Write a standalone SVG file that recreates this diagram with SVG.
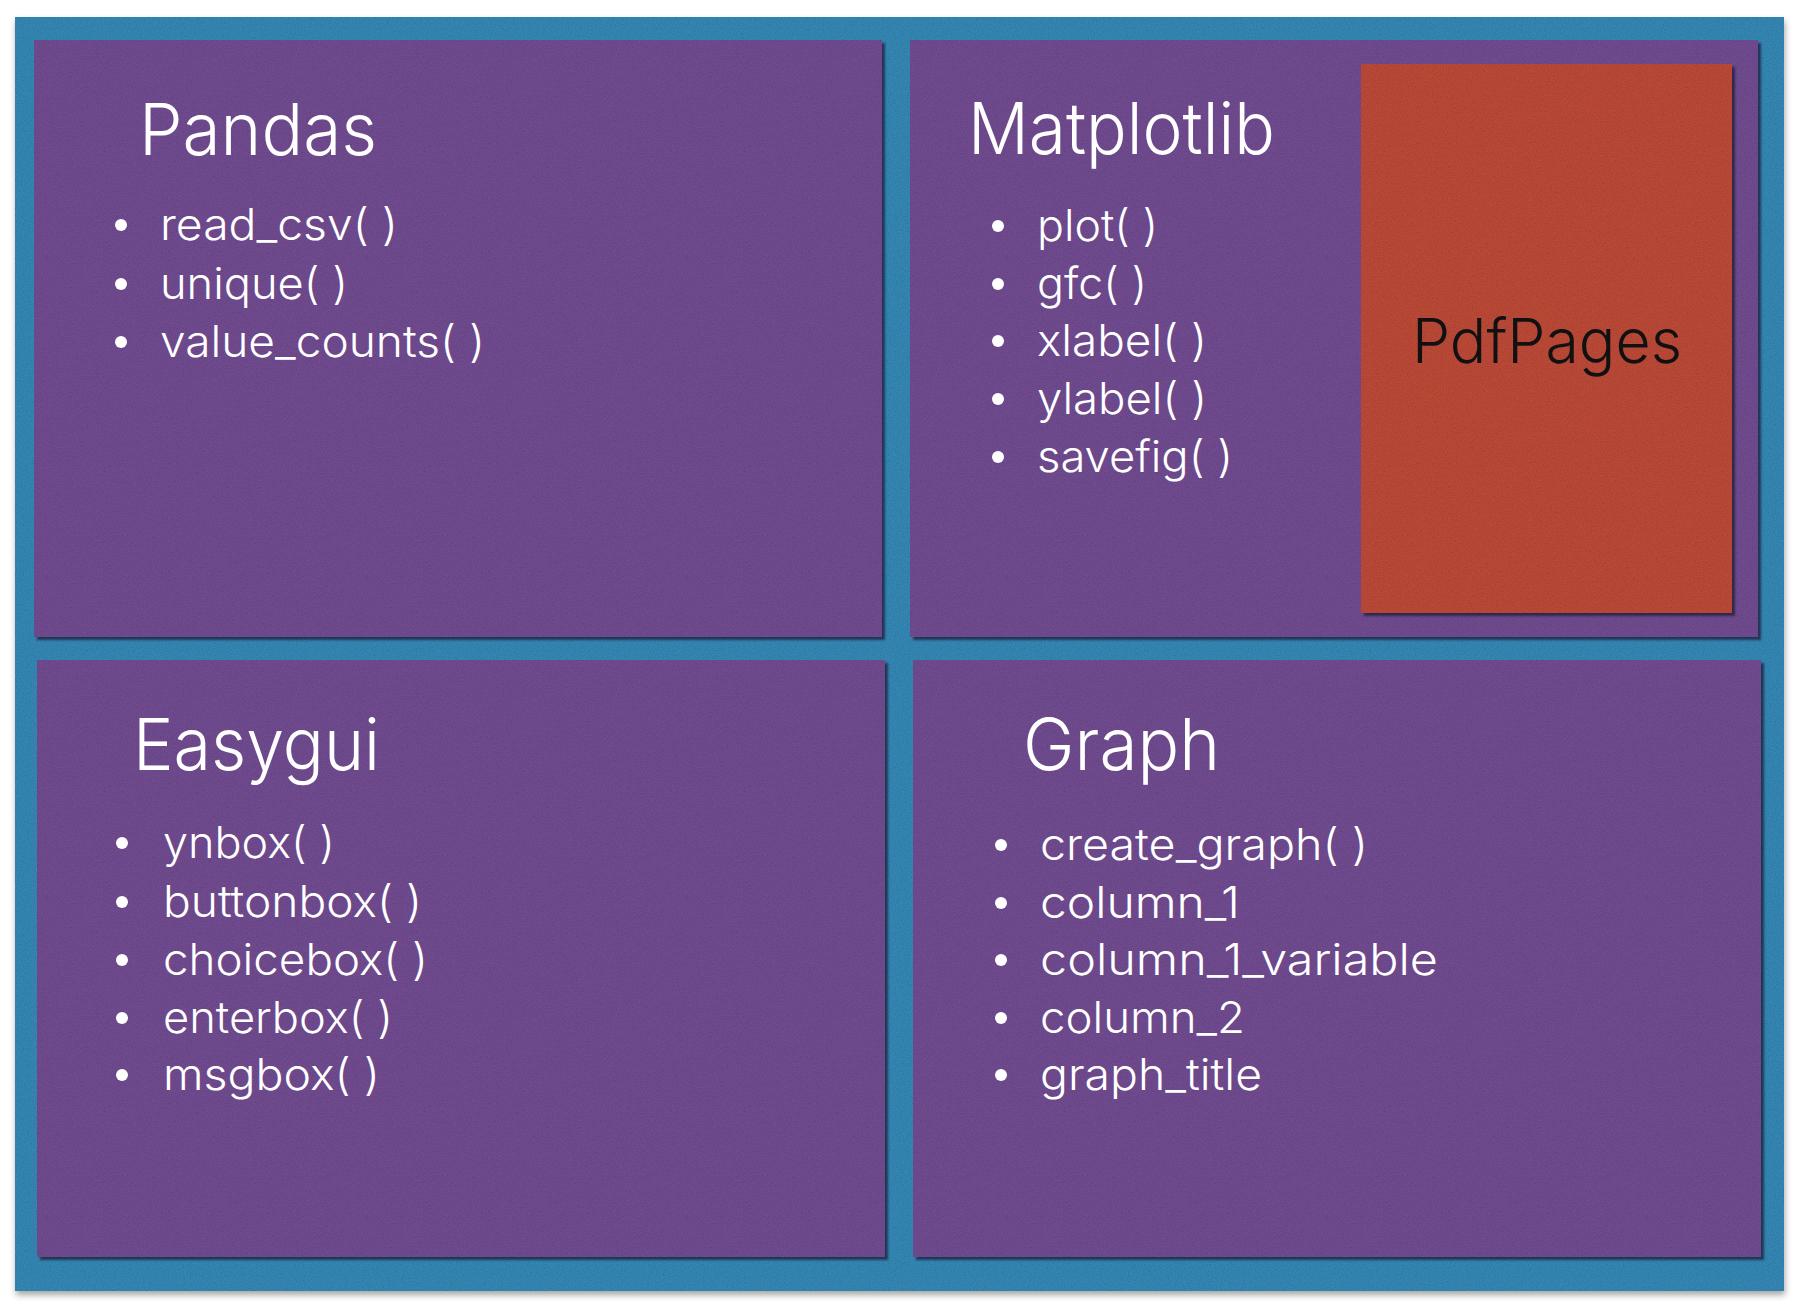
<svg xmlns="http://www.w3.org/2000/svg" width="1802" height="1314" viewBox="0 0 1802 1314">
  <style>
    .board { fill: #3586b2; }
    .card { fill: #6f4b8f; }
    .note { fill: #ba4838; }
    .title { font-family: Inter, "Open Sans", "Liberation Sans", sans-serif; font-weight: 280; font-size: 72px; fill: #ffffff; }
    .item { font-family: Inter, "Open Sans", "Liberation Sans", sans-serif; font-weight: 280; font-size: 44px; fill: #ffffff; }
    .dot { fill: #ffffff; }
    .label { font-family: Inter, "Liberation Sans", Arial, sans-serif; font-weight: 350; font-size: 62px; fill: #111111; }
  </style>
  <defs>
    <!-- board: soft grey drop shadow + paper grain -->
    <filter id="boardFx" x="-2%" y="-2%" width="104%" height="105%">
      <feGaussianBlur in="SourceAlpha" stdDeviation="3" result="b"/>
      <feOffset in="b" dx="1" dy="4" result="o"/>
      <feFlood flood-color="#000000" flood-opacity="0.35"/>
      <feComposite in2="o" operator="in" result="shadow"/>
      <feTurbulence type="fractalNoise" baseFrequency="0.85" numOctaves="3" seed="3" result="n"/>
      <feColorMatrix in="n" type="matrix" values="0 0 0 0 0  0 0 0 0 0  0 0 0 0 0  0.5 0 0 0 -0.2" result="na"/>
      <feComposite in="na" in2="SourceAlpha" operator="in" result="grain"/>
      <feMerge><feMergeNode in="shadow"/><feMergeNode in="SourceGraphic"/><feMergeNode in="grain"/></feMerge>
    </filter>
    <!-- cards: tight dark shadow to lower right + paper grain -->
    <filter id="cardFx" x="-2%" y="-2%" width="104%" height="105%">
      <feGaussianBlur in="SourceAlpha" stdDeviation="1.2" result="b"/>
      <feOffset in="b" dx="3" dy="3" result="o"/>
      <feFlood flood-color="#1c1d3a" flood-opacity="0.75"/>
      <feComposite in2="o" operator="in" result="shadow"/>
      <feTurbulence type="fractalNoise" baseFrequency="0.8" numOctaves="3" seed="7" result="n"/>
      <feColorMatrix in="n" type="matrix" values="0 0 0 0 0  0 0 0 0 0  0 0 0 0 0  0.5 0 0 0 -0.2" result="na"/>
      <feComposite in="na" in2="SourceAlpha" operator="in" result="grain"/>
      <feMerge><feMergeNode in="shadow"/><feMergeNode in="SourceGraphic"/><feMergeNode in="grain"/></feMerge>
    </filter>
  </defs>

  <rect class="board" x="15" y="17" width="1769" height="1274" filter="url(#boardFx)"/>

  <g id="pandas">
    <rect class="card" x="34" y="40" width="848" height="597" filter="url(#cardFx)"/>
    <text class="title" x="139" y="155" textLength="238" lengthAdjust="spacingAndGlyphs">Pandas</text>
    <circle class="dot" cx="121" cy="225" r="6"/>
    <text class="item" x="160" y="240" textLength="238" lengthAdjust="spacingAndGlyphs">read_csv( )</text>
    <circle class="dot" cx="121" cy="284" r="6"/>
    <text class="item" x="160" y="299" textLength="188" lengthAdjust="spacingAndGlyphs">unique( )</text>
    <circle class="dot" cx="121" cy="342" r="6"/>
    <text class="item" x="160" y="357" textLength="325" lengthAdjust="spacingAndGlyphs">value_counts( )</text>
  </g>

  <g id="matplotlib">
    <rect class="card" x="910" y="40" width="848" height="597" filter="url(#cardFx)"/>
    <text class="title" x="968" y="154" textLength="307" lengthAdjust="spacingAndGlyphs">Matplotlib</text>
    <circle class="dot" cx="998" cy="226" r="6"/>
    <text class="item" x="1037" y="241" textLength="121" lengthAdjust="spacingAndGlyphs">plot( )</text>
    <circle class="dot" cx="998" cy="284" r="6"/>
    <text class="item" x="1037" y="299" textLength="110" lengthAdjust="spacingAndGlyphs">gfc( )</text>
    <circle class="dot" cx="998" cy="341" r="6"/>
    <text class="item" x="1037" y="356" textLength="170" lengthAdjust="spacingAndGlyphs">xlabel( )</text>
    <circle class="dot" cx="998" cy="399" r="6"/>
    <text class="item" x="1037" y="414" textLength="170" lengthAdjust="spacingAndGlyphs">ylabel( )</text>
    <circle class="dot" cx="998" cy="457" r="6"/>
    <text class="item" x="1037" y="472" textLength="196" lengthAdjust="spacingAndGlyphs">savefig( )</text>
  </g>

  <g id="pdfpages">
    <rect class="note" x="1361" y="64" width="371" height="549" filter="url(#cardFx)"/>
    <text class="label" x="1412" y="363" textLength="270" lengthAdjust="spacingAndGlyphs">PdfPages</text>
  </g>

  <g id="easygui">
    <rect class="card" x="37" y="660" width="848" height="597" filter="url(#cardFx)"/>
    <text class="title" x="133" y="770" textLength="247" lengthAdjust="spacingAndGlyphs">Easygui</text>
    <circle class="dot" cx="122" cy="843" r="6"/>
    <text class="item" x="163" y="858" textLength="172" lengthAdjust="spacingAndGlyphs">ynbox( )</text>
    <circle class="dot" cx="122" cy="902" r="6"/>
    <text class="item" x="163" y="917" textLength="259" lengthAdjust="spacingAndGlyphs">buttonbox( )</text>
    <circle class="dot" cx="122" cy="960" r="6"/>
    <text class="item" x="163" y="975" textLength="265" lengthAdjust="spacingAndGlyphs">choicebox( )</text>
    <circle class="dot" cx="122" cy="1018" r="6"/>
    <text class="item" x="163" y="1033" textLength="230" lengthAdjust="spacingAndGlyphs">enterbox( )</text>
    <circle class="dot" cx="122" cy="1075" r="6"/>
    <text class="item" x="163" y="1090" textLength="217" lengthAdjust="spacingAndGlyphs">msgbox( )</text>
  </g>

  <g id="graph">
    <rect class="card" x="913" y="660" width="848" height="597" filter="url(#cardFx)"/>
    <text class="title" x="1023" y="770" textLength="197" lengthAdjust="spacingAndGlyphs">Graph</text>
    <circle class="dot" cx="1001" cy="845" r="6"/>
    <text class="item" x="1040" y="860" textLength="328" lengthAdjust="spacingAndGlyphs">create_graph( )</text>
    <circle class="dot" cx="1001" cy="903" r="6"/>
    <text class="item" x="1040" y="918" textLength="200" lengthAdjust="spacingAndGlyphs">column_1</text>
    <circle class="dot" cx="1001" cy="960" r="6"/>
    <text class="item" x="1040" y="975" textLength="398" lengthAdjust="spacingAndGlyphs">column_1_variable</text>
    <circle class="dot" cx="1001" cy="1018" r="6"/>
    <text class="item" x="1040" y="1033" textLength="205" lengthAdjust="spacingAndGlyphs">column_2</text>
    <circle class="dot" cx="1001" cy="1075" r="6"/>
    <text class="item" x="1040" y="1090" textLength="222" lengthAdjust="spacingAndGlyphs">graph_title</text>
  </g>

  <g id="connectors"></g>
</svg>
